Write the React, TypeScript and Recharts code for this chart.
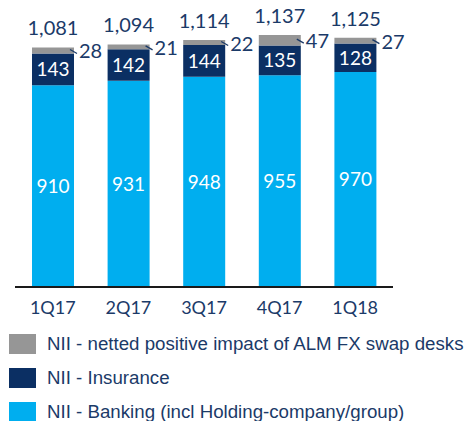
import React from 'react';
import { BarChart, Bar, XAxis, YAxis, LabelList } from 'recharts';

const categories = ['1Q17', '2Q17', '3Q17', '4Q17', '1Q18'];
const banking = [910, 931, 948, 955, 970];
const insurance = [143, 142, 144, 135, 128];
const almSwap = [28, 21, 22, 47, 27];
const totals = [1081, 1094, 1114, 1137, 1125];

const seriesNames = {
  alm: 'NII - netted positive impact of ALM FX swap desks',
  insurance: 'NII - Insurance',
  banking: 'NII - Banking (incl Holding-company/group)',
};

const COLORS = { alm: '#969696', insurance: '#0B2F63', banking: '#00AEEF' };
const NAVY = '#1B3A68';
const NUM_FONT = 'Lato, "Noto Sans", sans-serif';

const data = categories.map((c, i) => ({
  cat: c,
  banking: banking[i],
  insurance: insurance[i],
  alm: almSwap[i],
  total: totals[i],
}));

const TotalLabel = (props: any) => {
  const { x, y, width, index } = props;
  return (
    <text x={x + width / 2} y={y - 12} textAnchor="middle" fill={NAVY} fontSize={20} fontFamily={NUM_FONT}>
      {totals[index].toLocaleString('en-US')}
    </text>
  );
};

const AlmLabel = (props: any) => {
  const { x, y, width, height, index } = props;
  const right = x + width;
  const mid = y + height / 2;
  return (
    <g>
      <line x1={right - 4} y1={mid - 1} x2={right + 3} y2={mid + 3} stroke={NAVY} strokeWidth={1.3} />
      <text x={right + 5} y={mid + 8} textAnchor="start" fill={NAVY} fontSize={20} fontFamily={NUM_FONT}>
        {almSwap[index]}
      </text>
    </g>
  );
};

const legendItems = [
  { key: 'alm', name: seriesNames.alm, color: COLORS.alm },
  { key: 'insurance', name: seriesNames.insurance, color: COLORS.insurance },
  { key: 'banking', name: seriesNames.banking, color: COLORS.banking },
];

export default function App() {
  return (
    <div style={{ position: 'absolute', left: 0, top: 0, width: 466, height: 421, background: '#fff' }}>
      <BarChart
        width={466}
        height={421}
        data={data}
        margin={{ top: 21, right: 73, left: 15, bottom: 104 }}
        barSize={42}
      >
        <YAxis hide domain={[0, 1200]} />
        <XAxis
          dataKey="cat"
          height={30}
          tickLine={false}
          tickSize={0}
          tickMargin={14}
          axisLine={{ stroke: '#1a1a1a', strokeWidth: 2 }}
          tick={{ fill: NAVY, fontSize: 18, fontFamily: NUM_FONT }}
          interval={0}
        />
        <Bar dataKey="banking" stackId="a" fill={COLORS.banking} isAnimationActive={false}>
          <LabelList dataKey="banking" position="center" fill="#fff" fontSize={19} fontFamily={NUM_FONT} />
        </Bar>
        <Bar dataKey="insurance" stackId="a" fill={COLORS.insurance} isAnimationActive={false}>
          <LabelList dataKey="insurance" position="center" fill="#fff" fontSize={19} fontFamily={NUM_FONT} />
        </Bar>
        <Bar dataKey="alm" stackId="a" fill={COLORS.alm} isAnimationActive={false}>
          <LabelList dataKey="alm" content={AlmLabel} />
          <LabelList dataKey="total" content={TotalLabel} />
        </Bar>
      </BarChart>
      <div style={{ position: 'absolute', left: 9, top: 334 }}>
        {legendItems.map((it) => (
          <div key={it.key} style={{ display: 'flex', alignItems: 'center', height: 20, marginBottom: 14 }}>
            <div style={{ width: 27, height: 20, background: it.color, flexShrink: 0 }} />
            <span
              style={{
                marginLeft: 11,
                fontFamily: '"Liberation Sans", Arial, sans-serif',
                fontSize: 18.7,
                color: NAVY,
                whiteSpace: 'nowrap',
              }}
            >
              {it.name}
            </span>
          </div>
        ))}
      </div>
    </div>
  );
}
